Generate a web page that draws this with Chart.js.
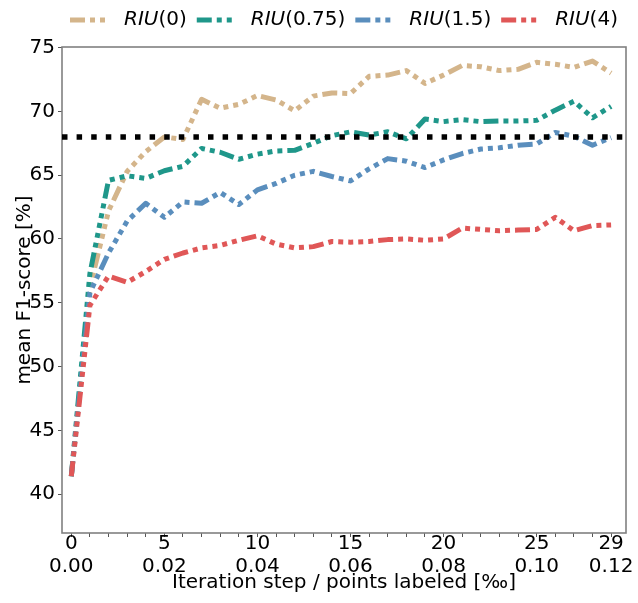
<!DOCTYPE html>
<html>
<head>
<meta charset="utf-8">
<script src="https://cdn.jsdelivr.net/npm/chart.js@4/dist/chart.umd.min.js"></script>
<style>
  html, body { margin: 0; padding: 0; background: #ffffff; }
  #wrap { width: 638px; height: 603px; }
</style>
</head>
<body>
<div id="wrap"><canvas id="chart" width="638" height="603"></canvas></div>
<script>
// Iteration steps on the x axis
const iterations = [0, 1, 2, 3, 4, 5, 6, 7, 8, 9, 10, 11, 12, 13, 14, 15, 16, 17, 18, 19, 20, 21, 22, 23, 24, 25, 26, 27, 28, 29];

// Labelled x ticks: iteration step and share of points labeled [‰]
const stepTicks = [0, 5, 10, 15, 20, 25, 29];
const labeledTicks = ['0.00', '0.02', '0.04', '0.06', '0.08', '0.10', '0.12'];

// Y axis ticks
const yTicks = [40, 45, 50, 55, 60, 65, 70, 75];

// Mean F1-score [%] per iteration
const riu0 = [41.4, 56.2, 62.2, 65.3, 66.85, 68.0, 67.8, 70.95, 70.25, 70.55,
              71.25, 70.9, 70.05, 71.2, 71.45, 71.4, 72.75, 72.85, 73.2, 72.2,
              72.85, 73.6, 73.5, 73.2, 73.3, 73.85, 73.7, 73.45, 73.95, 73.0];
const riu075 = [41.4, 57.3, 64.6, 64.95, 64.75, 65.35, 65.7, 67.1, 66.8, 66.25,
                66.65, 66.9, 66.95, 67.5, 68.1, 68.4, 68.15, 68.4, 67.85, 69.4,
                69.2, 69.35, 69.2, 69.25, 69.25, 69.3, 70.1, 70.8, 69.5, 70.4];
const riu15 = [41.4, 55.8, 58.9, 61.4, 62.8, 61.7, 62.9, 62.8, 63.65, 62.7,
               63.85, 64.35, 65.0, 65.3, 64.9, 64.55, 65.5, 66.3, 66.1, 65.6,
               66.2, 66.7, 67.05, 67.15, 67.35, 67.45, 68.35, 68.05, 67.35, 67.95];
const riu4 = [41.4, 54.8, 57.1, 56.6, 57.45, 58.4, 58.9, 59.3, 59.5, 59.9,
              60.25, 59.6, 59.3, 59.4, 59.8, 59.75, 59.8, 59.95, 60.0, 59.9,
              60.0, 60.85, 60.75, 60.65, 60.7, 60.75, 61.7, 60.65, 61.05, 61.1];

// Reference level (dotted black line)
const referenceLevel = 68;

const seriesNames = ['(0)', '(0.75)', '(1.5)', '(4)'];
const seriesColors = ['#d4b58b', '#1f978a', '#5a8ebd', '#e05757'];
const seriesValues = [riu0, riu075, riu15, riu4];

const FONT = 'DejaVu Sans';
const dashPattern = [15, 5, 5, 5, 5, 5, 5, 5, 5, 5, 5, 5];

const xMin = -0.5, xMax = 29.8;

const datasets = seriesValues.map((vals, k) => ({
  label: 'RIU' + seriesNames[k],
  data: iterations.map((it, i) => ({ x: it, y: vals[i] })),
  borderColor: seriesColors[k],
  backgroundColor: seriesColors[k],
  borderWidth: 5,
  borderDash: dashPattern,
  borderCapStyle: 'butt',
  borderJoinStyle: 'round',
  pointRadius: 0,
  tension: 0,
  fill: false,
  order: 4 - k
}));

datasets.push({
  label: 'reference',
  data: [{ x: xMin, y: referenceLevel }, { x: xMax, y: referenceLevel }],
  borderColor: '#000000',
  borderWidth: 5.5,
  borderDash: [5.5, 9.1],
  borderCapStyle: 'butt',
  pointRadius: 0,
  fill: false,
  order: 0
});

// Frame around the plotting area
const framePlugin = {
  id: 'frame',
  beforeDatasetsDraw(chart) {
    const { ctx, chartArea: a } = chart;
    ctx.save();
    ctx.strokeStyle = '#808080';
    ctx.lineWidth = 1.6;
    ctx.strokeRect(a.left, a.top, a.right - a.left, a.bottom - a.top);
    ctx.restore();
  }
};

// Legend row: dashed swatch, italic "RIU" and upright argument
const legendPlugin = {
  id: 'riuLegend',
  afterDraw(chart) {
    const { ctx } = chart;
    ctx.save();
    const y = 20;
    let x = 70;
    const size = 20;
    ctx.textBaseline = 'middle';
    seriesNames.forEach((name, k) => {
      ctx.beginPath();
      ctx.strokeStyle = seriesColors[k];
      ctx.lineWidth = 5;
      ctx.lineCap = 'butt';
      ctx.setLineDash(dashPattern);
      ctx.moveTo(x, y);
      ctx.lineTo(x + 38, y);
      ctx.stroke();
      ctx.setLineDash([]);
      x += 38 + 16;
      ctx.fillStyle = '#000000';
      ctx.font = 'italic ' + size + 'px "' + FONT + '"';
      ctx.fillText('RIU', x, y);
      x += ctx.measureText('RIU').width;
      ctx.font = size + 'px "' + FONT + '"';
      ctx.fillText(name, x, y);
      x += ctx.measureText(name).width + 10;
    });
    ctx.restore();
  }
};

new Chart(document.getElementById('chart'), {
  type: 'line',
  data: { datasets },
  options: {
    responsive: false,
    animation: false,
    devicePixelRatio: 1,
    layout: { padding: { top: 47, right: 12, left: 0, bottom: 0 } },
    plugins: { legend: { display: false }, tooltip: { enabled: false } },
    scales: {
      x: {
        type: 'linear',
        min: xMin,
        max: xMax,
        afterBuildTicks(scale) { scale.ticks = iterations.map(v => ({ value: v })); },
        afterFit(scale) { scale.height = 70; },
        grid: { drawOnChartArea: false, drawTicks: true, tickLength: 4, color: '#555555', tickWidth: 1 },
        border: { display: false },
        ticks: {
          autoSkip: false,
          maxRotation: 0,
          minRotation: 0,
          padding: -5,
          color: '#000000',
          font: { family: FONT, size: 20, lineHeight: 1.15 },
          callback(value) {
            const k = stepTicks.indexOf(value);
            return k >= 0 ? [String(stepTicks[k]), labeledTicks[k]] : '';
          }
        },
        title: {
          display: true,
          text: 'Iteration step / points labeled [‰]',
          color: '#000000',
          font: { family: FONT, size: 20, lineHeight: 1.2 },
          padding: { top: 0, bottom: 8 }
        }
      },
      y: {
        type: 'linear',
        min: 36.95,
        max: 75.05,
        afterBuildTicks(scale) { scale.ticks = yTicks.map(v => ({ value: v })); },
        afterFit(scale) { scale.width = 62; },
        grid: { drawOnChartArea: false, drawTicks: true, tickLength: 4, color: '#555555', tickWidth: 1 },
        border: { display: false },
        ticks: {
          padding: 3,
          color: '#000000',
          font: { family: FONT, size: 20 },
          callback(value) { return String(value); }
        },
        title: {
          display: true,
          text: 'mean F1-score [%]',
          color: '#000000',
          font: { family: FONT, size: 20, lineHeight: 1.2 },
          padding: { top: 13, bottom: 0 }
        }
      }
    }
  },
  plugins: [framePlugin, legendPlugin]
});
</script>
</body>
</html>
